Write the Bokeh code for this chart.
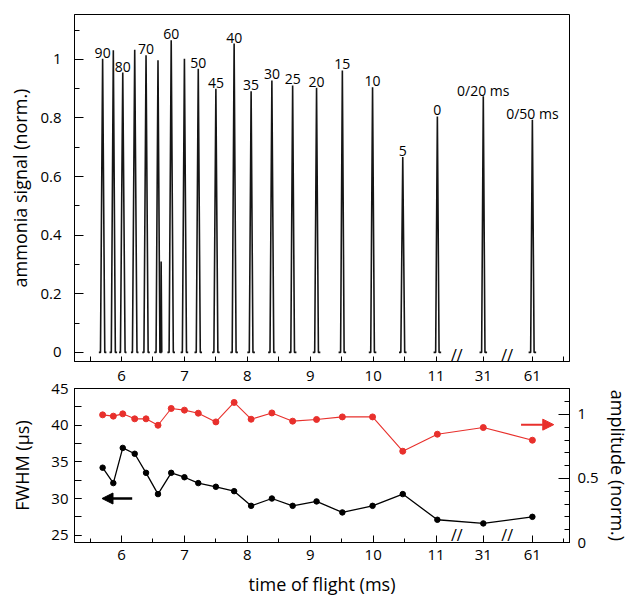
from bokeh.plotting import figure
from bokeh.layouts import column
from bokeh.models import Range1d, LinearAxis, FixedTicker, Arrow, NormalHead, Label
from bokeh.core.properties import value
from bokeh.embed import file_html
from bokeh.resources import INLINE

FONT = "Open Sans"
RED = "#e8302c"

# ---------------- data ----------------
tof_ms = [5.70, 5.87, 6.02, 6.21, 6.39, 6.58, 6.79, 7.00, 7.22, 7.50, 7.79,
          8.06, 8.39, 8.72, 9.10, 9.51, 9.99, 10.47, 11.02, 31.0, 61.0]
peak_labels = ["90", "", "80", "", "70", "", "60", "", "50", "45", "40",
               "35", "30", "25", "20", "15", "10", "5", "0", "0/20 ms", "0/50 ms"]
peak_signal = [1.002, 1.031, 0.955, 1.033, 1.014, 0.997, 1.065, 1.002, 0.968, 0.900, 1.054,
               0.891, 0.928, 0.911, 0.903, 0.962, 0.905, 0.667, 0.805, 0.874, 0.794]
fwhm_us = [34.2, 32.1, 36.9, 36.1, 33.5, 30.6, 33.5, 32.9, 32.1, 31.6, 31.0,
           29.0, 30.0, 29.0, 29.6, 28.1, 29.0, 30.6, 27.1, 26.6, 27.5]
amplitude = [0.997, 0.987, 1.005, 0.966, 0.966, 0.916, 1.047, 1.034, 1.010, 0.942, 1.094,
             0.963, 1.012, 0.948, 0.961, 0.981, 0.981, 0.713, 0.846, 0.898, 0.799]
artifact_tof_ms = [6.63]
artifact_signal = [0.31]

x_major_ticks = [6, 7, 8, 9, 10, 11, 31, 61]
x_minor_ticks = [5.5, 6.5, 7.5, 8.5, 9.5, 10.5]
signal_ticks = [0, 0.2, 0.4, 0.6, 0.8, 1.0]
signal_tick_labels = ["0", "0.2", "0.4", "0.6", "0.8", "1"]
fwhm_ticks = [25, 30, 35, 40, 45]
amp_ticks = [0, 0.5, 1.0]
amp_tick_labels = ["0", "0.5", "1"]

# ---------------- broken time axis ----------------
BREAK_POS = {31.0: 11.75, 61.0: 12.53}   # display position of the values after the breaks
AXIS_END_TICK = 13.02
BREAK_MARKS = [11.33, 12.13]


def xpos(t):
    return BREAK_POS.get(float(t), t)


x_tick_pos = [xpos(t) for t in x_major_ticks]
x_overrides = {xpos(t): str(t) for t in x_major_ticks}
X0, X1 = 5.253, 13.12
SIG0, SIG1 = -0.031, 1.153
FW0, FW1 = 24, 45
AMP1 = 1.203

W = 632
L, R = 74, 63


def style_axis(ax, tick_in, minor_in, standoff, label="", label_standoff=0):
    ax.major_tick_in = tick_in
    ax.major_tick_out = 0
    ax.minor_tick_in = minor_in
    ax.minor_tick_out = 0
    ax.major_label_standoff = standoff
    ax.major_label_text_font = FONT
    ax.major_label_text_font_size = "15px"
    ax.major_label_text_color = "black"
    ax.axis_line_color = "black"
    ax.major_tick_line_color = "black"
    ax.minor_tick_line_color = "black"
    if label:
        ax.axis_label = label
        ax.axis_label_standoff = label_standoff
        ax.axis_label_text_font = FONT
        ax.axis_label_text_font_size = "18px"
        ax.axis_label_text_font_style = "normal"
        ax.axis_label_text_color = "black"


def style_fig(p):
    p.grid.visible = False
    p.outline_line_color = "black"
    p.background_fill_color = "white"
    p.border_fill_color = "white"


def break_marks(p, y):
    for bx in BREAK_MARKS:
        p.add_layout(Label(x=bx, y=y, text="//", text_align="center", text_baseline="middle",
                           text_font=FONT, text_font_size="16px", text_color="black"))


# ---------------- top panel: signals ----------------
p1 = figure(width=W, height=366, x_range=Range1d(X0, X1), y_range=Range1d(SIG0, SIG1),
            output_backend="svg", toolbar_location=None,
            min_border_left=L, min_border_right=R, min_border_top=14, min_border_bottom=5)
style_fig(p1)

xs, ys = [], []
for t, h, w in zip(tof_ms, peak_signal, fwhm_us):
    c = xpos(t)
    hw = w / 1000.0
    xs.append([c - 0.06, c - hw, c, c + hw, c + 0.06])
    ys.append([0, 0, h, 0, 0])
for t, h in zip(artifact_tof_ms, artifact_signal):
    c = xpos(t)
    xs.append([c - 0.01, c, c + 0.01])
    ys.append([0, h, 0])
p1.multi_line(xs, ys, line_color="#151515", line_width=1.6)

p1.text(x=[xpos(t) for t in tof_ms], y=peak_signal, text=peak_labels,
        text_align="center", text_baseline="alphabetic", y_offset=-6,
        text_font=value(FONT), text_font_size="14px", text_color="black")

# time-axis ticks of the upper panel (its labels sit above the lower panel)
p1.xaxis.ticker = FixedTicker(ticks=[], minor_ticks=x_tick_pos + x_minor_ticks + [AXIS_END_TICK])
style_axis(p1.xaxis[0], 5, 5, 0)

p1.yaxis.ticker = FixedTicker(ticks=signal_ticks, minor_ticks=[i / 10 for i in range(12)])
p1.yaxis.major_label_overrides = dict(zip(signal_ticks, signal_tick_labels))
style_axis(p1.yaxis[0], 9, 5, 13, "ammonia signal (norm.)", 5)

break_marks(p1, -0.008)

# ---------------- bottom panel: FWHM and amplitude ----------------
p2 = figure(width=W, height=232, x_range=p1.x_range, y_range=Range1d(FW0, FW1),
            output_backend="svg", toolbar_location=None,
            min_border_left=L, min_border_right=R, min_border_top=22, min_border_bottom=56)
style_fig(p2)
p2.extra_y_ranges = {"amp": Range1d(0, AMP1)}

xp = [xpos(t) for t in tof_ms]
p2.line(xp, fwhm_us, line_color="black", line_width=1.3)
p2.scatter(xp, fwhm_us, size=5.5, fill_color="black", line_color="black")
p2.line(xp, amplitude, line_color=RED, line_width=1.1, y_range_name="amp")
p2.scatter(xp, amplitude, size=6, fill_color=RED, line_color=RED, y_range_name="amp")

bottom_axis = p2.below[0]
bottom_axis.ticker = FixedTicker(ticks=x_tick_pos, minor_ticks=x_minor_ticks + [AXIS_END_TICK])
bottom_axis.major_label_overrides = x_overrides
style_axis(bottom_axis, 7, 4, 7, "time of flight (ms)", 9)

left_axis = p2.left[0]
left_axis.ticker = FixedTicker(ticks=fwhm_ticks, minor_ticks=[25 + 2.5 * i for i in range(9)])
style_axis(left_axis, 7, 7, 6, "FWHM (μs)", 14)

# tick labels of the upper panel's time axis
top_axis = LinearAxis(ticker=FixedTicker(ticks=x_tick_pos, minor_ticks=[]))
top_axis.major_label_overrides = x_overrides
style_axis(top_axis, 0, 0, 8)
top_axis.axis_line_color = None
top_axis.major_tick_line_color = None
top_axis.minor_tick_line_color = None
p2.add_layout(top_axis, "above")

amp_axis = LinearAxis(y_range_name="amp",
                      ticker=FixedTicker(ticks=amp_ticks, minor_ticks=[i / 10 for i in range(13)]))
amp_axis.major_label_overrides = dict(zip(amp_ticks, amp_tick_labels))
style_axis(amp_axis, 11, 5, 8, "amplitude (norm.)", 4)
p2.add_layout(amp_axis, "right")

# direction arrows (left axis -> black, right axis -> red)
p2.add_layout(Arrow(end=NormalHead(size=11, fill_color="black", line_color="black"),
                    x_start=6.17, y_start=30, x_end=5.69, y_end=30,
                    line_color="black", line_width=2.5))
p2.add_layout(Arrow(end=NormalHead(size=11, fill_color=RED, line_color=RED),
                    x_start=12.35, y_start=40.07, x_end=12.87, y_end=40.07,
                    line_color=RED, line_width=2))

break_marks(p2, FW0 + 1.0)

layout = column(p1, p2, spacing=0)
open("out.html", "w").write(file_html(layout, INLINE))
